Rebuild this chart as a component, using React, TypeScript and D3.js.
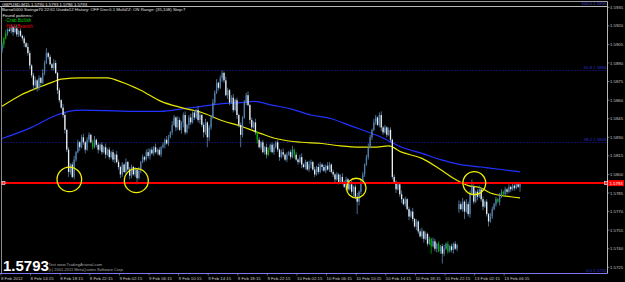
import React from "react";
import * as d3 from "d3";

// ---------- DATA ----------
const symbolHeader = "GBPUSD,M15  1.5790 1.5793 1.5786 1.5793";
const settingsHeader =
  "Bars=5000 Swing=70 22:61 Used=12 History: OFF Dev:0.1 MultiZZ: ON Range: (35,108) Step:7";
const foundTitle = "Found patterns:";
const patternNames = ["-Crab Bullish", "-H&S Bearish"];
const watermarkLines = [
  "Test  www.TradingArsenal.com",
  "(c) 2001-2011 MetaQuotes Software Corp.",
];
const bigPriceText = "1.5793";

const firstOpen = 1.59;
const gapOpens = [{ bar: 247, open: 1.5772 }];

const closes = [
  1.5905, 1.591, 1.5914, 1.5917, 1.5916,
  1.5919, 1.5915, 1.5918, 1.5913, 1.5916, 1.5912,
  1.591, 1.5906, 1.5903, 1.5898,
  1.5888, 1.588, 1.5872, 1.5876,
  1.587, 1.5878, 1.5874, 1.5882,
  1.589, 1.5898, 1.5895, 1.5889,
  1.5886, 1.589, 1.5882,
  1.5868, 1.586, 1.5854,
  1.5848, 1.5836,
  1.582, 1.5802,
  1.5808, 1.5798, 1.5812,
  1.5818, 1.5826, 1.5822, 1.583,
  1.5826, 1.582, 1.5828, 1.5832, 1.5826, 1.5822, 1.5828, 1.5824,
  1.582, 1.5824, 1.5818, 1.5822, 1.5816, 1.582, 1.5814, 1.5818, 1.5812, 1.5816, 1.581,
  1.5806, 1.58, 1.5808, 1.5802, 1.581,
  1.5804, 1.5799, 1.5806, 1.58, 1.5804, 1.5797, 1.5803,
  1.581, 1.5814, 1.5812, 1.5818, 1.5815, 1.582, 1.5817, 1.5822, 1.5818,
  1.582, 1.5816, 1.5822,
  1.5824, 1.5828, 1.5825, 1.583, 1.5834,
  1.584, 1.5846, 1.5838, 1.5844, 1.5836,
  1.5842, 1.5848, 1.5834, 1.584, 1.5846, 1.5842,
  1.585, 1.5846, 1.5852, 1.5844, 1.5848,
  1.584, 1.5834, 1.5842, 1.583, 1.5838, 1.5846,
  1.5858, 1.5866, 1.5874,
  1.587, 1.5878, 1.5882, 1.5876,
  1.5864, 1.5868, 1.5858, 1.5862,
  1.5852, 1.586, 1.5848, 1.584, 1.5832,
  1.5846, 1.5858, 1.5864, 1.5856,
  1.5844, 1.5838, 1.5842, 1.5834,
  1.5828, 1.5822, 1.5826, 1.5818, 1.5822, 1.5816,
  1.582, 1.5824, 1.5818, 1.5822, 1.5826, 1.582, 1.5814, 1.5818,
  1.5816, 1.5812, 1.5816, 1.5818, 1.5814, 1.582, 1.5816, 1.5812, 1.581, 1.5814, 1.5808,
  1.5806, 1.581, 1.5804, 1.5808, 1.581, 1.5804, 1.58, 1.5806, 1.5802, 1.5808,
  1.5806, 1.5803, 1.5807, 1.5804, 1.5808, 1.5802,
  1.58, 1.5796, 1.58, 1.5794, 1.5798,
  1.5794, 1.579, 1.5796, 1.5788, 1.5792,
  1.5786, 1.579, 1.5782, 1.5778, 1.5786, 1.5794,
  1.58, 1.5808, 1.5814,
  1.5822, 1.583, 1.5836, 1.5842,
  1.5846, 1.584, 1.5848, 1.5838,
  1.5834, 1.5838, 1.5832, 1.5836, 1.5828,
  1.5798,
  1.5794, 1.5788, 1.5792, 1.5784, 1.578,
  1.5776, 1.578, 1.5772, 1.5766, 1.577,
  1.5764, 1.5758, 1.5762, 1.5754, 1.575,
  1.5754, 1.5748, 1.5752, 1.5744, 1.5748, 1.5742,
  1.5746, 1.574, 1.5744, 1.5738, 1.5742, 1.5736,
  1.574, 1.5744, 1.5738, 1.5742, 1.5739, 1.5744, 1.574, 1.5743,
  1.5776, 1.5772, 1.5778,
  1.577, 1.5776, 1.5768,
  1.5784, 1.579, 1.5778,
  1.5786, 1.5782, 1.5788,
  1.578, 1.5774, 1.5778,
  1.5768, 1.5762, 1.5766, 1.5772,
  1.5776, 1.578, 1.5778,
  1.5782, 1.5786, 1.5784,
  1.5788, 1.5786, 1.579, 1.5788,
  1.5791, 1.5789, 1.5792, 1.579, 1.5793,
];

// wick lengths in pips beyond the candle body
const upperWickPips = [
  2, 1, 3, 1, 2, 2, 1, 2, 3, 1, 2, 1, 2, 1, 3, 2, 1, 2, 3, 1,
  2, 1, 3, 2, 4, 1, 2, 1, 3, 2, 1, 2, 1, 3, 2, 1, 2, 1, 2, 3,
  1, 2, 1, 2, 3, 1, 2, 2, 1, 2, 3, 1, 2, 1, 2, 1, 3, 1, 2, 1,
  2, 1, 3, 2, 1, 2, 1, 3, 1, 2, 2, 1, 2, 1, 3, 1, 2, 1, 2, 3,
  1, 2, 1, 3, 1, 2, 1, 2, 1, 3, 2, 1, 3, 2, 1, 3, 2, 1, 2, 3,
  1, 2, 3, 1, 2, 1, 3, 2, 1, 2, 3, 1, 2, 2, 3, 2, 3, 1, 2, 2,
  1, 3, 2, 1, 2, 3, 1, 2, 1, 2, 1, 2, 2, 3, 1, 2, 1, 3, 1, 2,
  1, 2, 1, 3, 2, 1, 2, 3, 1, 2, 1, 2, 3, 1, 2, 1, 2, 3, 1, 2,
  1, 2, 3, 1, 2, 1, 3, 2, 1, 2, 1, 3, 2, 1, 2, 1, 3, 2, 1, 2,
  1, 2, 1, 2, 3, 1, 2, 1, 2, 3, 1, 2, 3, 1, 2, 2, 1, 2, 3, 2,
  1, 3, 2, 1, 2, 3, 1, 2, 1, 2, 2, 1, 2, 1, 2, 1, 3, 1, 2, 1,
  2, 1, 3, 1, 2, 1, 2, 3, 1, 2, 1, 2, 1, 3, 2, 1, 2, 1, 2, 3,
  1, 2, 1, 2, 1, 2, 1, 3, 2, 3, 1, 4, 2, 3, 6, 2, 1, 2, 3, 1,
  2, 1, 2, 1, 3, 2, 1, 2, 1, 3, 2, 1, 2, 1, 2, 1, 2, 1, 2, 1, 0,
];
const lowerWickPips = [
  2, 3, 1, 2, 1, 2, 3, 1, 2, 2, 1, 2, 3, 1, 2, 3, 2, 4, 2, 3,
  2, 3, 1, 2, 1, 2, 1, 2, 2, 1, 3, 2, 1, 2, 3, 2, 4, 2, 1, 2,
  2, 1, 3, 1, 2, 3, 1, 2, 1, 2, 1, 2, 3, 1, 2, 1, 3, 1, 2, 1,
  2, 3, 1, 2, 3, 2, 1, 2, 1, 3, 2, 1, 2, 5, 1, 2, 1, 2, 1, 2,
  3, 1, 2, 1, 2, 1, 2, 1, 3, 1, 2, 1, 2, 1, 3, 2, 1, 3, 4, 2,
  1, 3, 2, 1, 2, 1, 2, 3, 2, 4, 2, 8, 3, 2, 1, 2, 1, 2, 1, 3,
  2, 1, 3, 2, 1, 2, 1, 3, 2, 10, 2, 1, 2, 1, 3, 2, 1, 2, 3, 1,
  2, 1, 2, 3, 1, 2, 1, 2, 1, 2, 3, 1, 2, 1, 2, 1, 2, 1, 3, 1,
  2, 1, 3, 1, 2, 1, 2, 3, 1, 2, 1, 2, 1, 3, 1, 2, 1, 2, 1, 2,
  3, 1, 2, 1, 2, 1, 3, 2, 1, 2, 4, 2, 10, 3, 2, 1, 2, 1, 2, 1,
  2, 1, 2, 1, 2, 3, 2, 1, 2, 1, 2, 2, 1, 3, 1, 2, 3, 1, 2, 1,
  3, 1, 2, 1, 3, 2, 1, 2, 3, 1, 2, 1, 6, 1, 2, 3, 1, 2, 8, 2,
  1, 2, 1, 2, 3, 1, 2, 3, 1, 2, 6, 1, 2, 3, 1, 2, 1, 3, 1, 2,
  3, 1, 2, 4, 1, 2, 1, 2, 1, 3, 1, 2, 1, 2, 1, 2, 1, 2, 1, 1, 4,
];

// bars painted by the pattern indicator
const highlightedBars = [1, 2, 49, 138, 144, 158, 232, 236, 241, 268, 271];

// moving averages: [bar, price]
const yellowMA: [number, number][] = [
  [0, 1.5855], [10, 1.5864], [21, 1.5871], [28, 1.5875], [32, 1.5877], [43, 1.5878],
  [57, 1.5878], [64, 1.5875], [75, 1.5868], [86, 1.5859], [97, 1.5854], [108, 1.585],
  [118, 1.5844], [129, 1.5839], [140, 1.5833], [148, 1.5829], [155, 1.5827], [162, 1.5826],
  [173, 1.5825], [183, 1.5823], [194, 1.5822], [201, 1.5822], [209, 1.5823], [216, 1.5818],
  [227, 1.5813], [237, 1.5804], [244, 1.5797], [252, 1.5791], [259, 1.5789], [264, 1.5785],
  [275, 1.5782], [280, 1.5781],
];
const blueMA: [number, number][] = [
  [0, 1.5829], [16, 1.5838], [28, 1.5847], [36, 1.5851], [43, 1.5852], [70, 1.5851],
  [86, 1.5851], [97, 1.5853], [108, 1.5855], [118, 1.5857], [129, 1.5858], [136, 1.5859],
  [146, 1.5856], [156, 1.5853], [167, 1.5848], [178, 1.5845], [189, 1.5839], [205, 1.583],
  [216, 1.5822], [227, 1.5817], [237, 1.5812], [248, 1.5808], [259, 1.5806], [270, 1.5804],
  [280, 1.5802],
];

// yellow pattern markers: [bar, price, radius px]
const markers: [number, number, number][] = [
  [36.4, 1.5796, 12.3],
  [72.6, 1.5795, 12],
  [191.5, 1.5789, 9.8],
  [255.3, 1.5793, 11.4],
];

const bidPrice = 1.5793;
const fibLevels = [
  { label: "61.8  1.5884", price: 1.5884 },
  { label: "38.2  1.5826", price: 1.5826 },
];
const fibTopLabel = "100.0  1.5935";
const fibBottomLabel = "0.0  1.5725";

const priceTicks = [
  "1.5935", "1.5920", "1.5905", "1.5890", "1.5875", "1.5860", "1.5845", "1.5830",
  "1.5815", "1.5800", "1.5785", "1.5770", "1.5755", "1.5740", "1.5725",
];
const timeLabels = [
  "8 Feb 2012", "8 Feb 14:15", "8 Feb 18:15", "8 Feb 22:15", "9 Feb 02:15", "9 Feb 06:15",
  "9 Feb 10:15", "9 Feb 14:15", "9 Feb 18:15", "9 Feb 22:15", "10 Feb 02:15", "10 Feb 06:15",
  "10 Feb 10:15", "10 Feb 14:15", "10 Feb 18:15", "10 Feb 22:15", "13 Feb 02:15", "13 Feb 06:15",
];
const timeLabelBars = [0, 16, 32, 48, 64, 80, 96, 112, 128, 144, 160, 176, 192, 208, 224, 240, 256, 272];

// ---------- CHART ----------
const W = 625;
const H = 282;
const plot = { left: 1.5, right: 607.5, top: 6.5, bottom: 273.5 };
const FONT = "'Liberation Sans', Arial, sans-serif";
const PIP = 0.0001;

export default function App() {
  const x = d3.scaleLinear().domain([0, 272]).range([2, 505.2]);
  const y = d3.scaleLinear().domain([1.5725, 1.5935]).range([267.3, 7.3]);

  const candles = closes.map((c, i) => {
    const gap = gapOpens.find((g) => g.bar === i);
    const o = gap ? gap.open : i === 0 ? firstOpen : closes[i - 1];
    const hi = Math.max(o, c) + (upperWickPips[i] ?? 1) * PIP;
    const lo = Math.min(o, c) - (lowerWickPips[i] ?? 1) * PIP;
    return { i, o, c, hi, lo };
  });

  const line = d3
    .line<[number, number]>()
    .x((d) => x(d[0]))
    .y((d) => y(d[1]))
    .curve(d3.curveMonotoneX);

  const bidY = y(bidPrice);
  const small = 4.3;

  return (
    <svg
      width={W}
      height={H}
      style={{ position: "absolute", left: 0, top: 0, background: "#000" }}
      fontFamily={FONT}
    >
      <rect x={0} y={0} width={W} height={H} fill="#000" />
      {/* frame */}
      <line x1={0} x2={plot.right} y1={1.5} y2={1.5} stroke="#9a9a9a" strokeWidth={1} />
      <line x1={0} x2={plot.right} y1={plot.top} y2={plot.top} stroke="#b8b8b8" strokeWidth={1} />
      <line x1={plot.left} x2={plot.left} y1={plot.top} y2={plot.bottom} stroke="#8a8a8a" strokeWidth={1} />
      <line x1={plot.right} x2={plot.right} y1={1.5} y2={plot.bottom} stroke="#b8b8b8" strokeWidth={1} />

      {/* fib dotted levels */}
      {fibLevels.map((f) => (
        <g key={f.label}>
          <line
            x1={plot.left}
            x2={plot.right}
            y1={Math.round(y(f.price)) + 0.5}
            y2={Math.round(y(f.price)) + 0.5}
            stroke="#2020b8"
            strokeWidth={1}
            strokeDasharray="1,2"
          />
          <text x={plot.right - 1} y={y(f.price) - 1.5} fontSize={small} fill="#3030d0" textAnchor="end">
            {f.label}
          </text>
        </g>
      ))}
      <text x={plot.right - 1} y={5.3} fontSize={small} fill="#4040c8" textAnchor="end">
        {fibTopLabel}
      </text>
      <text x={plot.right - 1} y={272} fontSize={small} fill="#3030d0" textAnchor="end">
        {fibBottomLabel}
      </text>

      {/* moving averages */}
      <path d={line(blueMA) || ""} fill="none" stroke="#2233ff" strokeWidth={1.2} />
      <path d={line(yellowMA) || ""} fill="none" stroke="#e6e600" strokeWidth={1.2} />

      {/* candles */}
      {candles.map((k) => {
        const cx = x(k.i);
        const bull = k.c > k.o;
        const hl = highlightedBars.includes(k.i);
        const wick = hl ? "#00b000" : "#5f86ae";
        const body = hl ? "#00b000" : bull ? "#4d7fb0" : "#eeeeee";
        const yTop = y(Math.max(k.o, k.c));
        const yBot = y(Math.min(k.o, k.c));
        return (
          <g key={k.i}>
            <line x1={cx} x2={cx} y1={y(k.hi)} y2={y(k.lo)} stroke={wick} strokeWidth={0.8} />
            <rect x={cx - 0.65} y={yTop} width={1.3} height={Math.max(0.7, yBot - yTop)} fill={body} />
          </g>
        );
      })}

      {/* bid line */}
      <line x1={plot.left} x2={plot.right} y1={bidY} y2={bidY} stroke="#ff0000" strokeWidth={2} />
      <rect x={2} y={bidY - 1.5} width={3} height={3} fill="#ff2020" stroke="#ffffff" strokeWidth={0.6} />
      <rect x={plot.right - 3} y={bidY - 1.5} width={3} height={3} fill="#ff2020" stroke="#ffffff" strokeWidth={0.6} />

      {/* pattern markers */}
      {markers.map((m, idx) => (
        <circle key={idx} cx={x(m[0])} cy={y(m[1])} r={m[2]} fill="none" stroke="#f0f000" strokeWidth={1.3} />
      ))}

      {/* bottom axis */}
      <line x1={0} x2={plot.right} y1={plot.bottom} y2={plot.bottom} stroke="#7878f0" strokeWidth={1} />
      {timeLabelBars.map((b, idx) => (
        <g key={b}>
          <line x1={x(b) - 1} x2={x(b) - 1} y1={plot.bottom} y2={plot.bottom + 2} stroke="#a0a0a0" strokeWidth={0.6} />
          <text x={x(b) - 1} y={280} fontSize={small} fill="#c8c8c8">
            {timeLabels[idx]}
          </text>
        </g>
      ))}

      {/* price axis */}
      {priceTicks.map((t) => (
        <g key={t}>
          <line x1={plot.right} x2={plot.right + 2} y1={y(+t)} y2={y(+t)} stroke="#b0b0b0" strokeWidth={0.6} />
          <text x={610} y={y(+t) + 1.5} fontSize={small} fill="#c8c8c8">
            {t}
          </text>
        </g>
      ))}
      <rect x={plot.right + 0.5} y={bidY - 3} width={16} height={6} fill="#ff0000" />
      <text x={609.5} y={bidY + 1.6} fontSize={small} fill="#ffffff">
        {bidPrice.toFixed(4)}
      </text>

      {/* header texts */}
      <text x={2} y={5.6} fontSize={small} fill="#e0e0e0">
        {symbolHeader}
      </text>
      <text x={2} y={10.6} fontSize={small} fill="#e0e0e0">
        {settingsHeader}
      </text>
      <text x={2.5} y={16.5} fontSize={small} fill="#e8e8e8">
        {foundTitle}
      </text>
      <text x={5} y={22} fontSize={small + 0.3} fill="#00c800">
        {patternNames[0]}
      </text>
      <text x={5} y={27.6} fontSize={small + 0.3} fill="#e00000">
        {patternNames[1]}
      </text>

      {/* watermark (visible part, right of the big price) */}
      <text x={48.5} y={265.5} fontSize={small - 0.3} fill="#a8a8a8">
        {watermarkLines[0]}
      </text>
      <text x={48.5} y={270.5} fontSize={small - 0.3} fill="#a8a8a8">
        {watermarkLines[1]}
      </text>
      <text x={3} y={270.5} fontSize={15} fontWeight="bold" fill="#ffffff">
        {bigPriceText}
      </text>
    </svg>
  );
}
